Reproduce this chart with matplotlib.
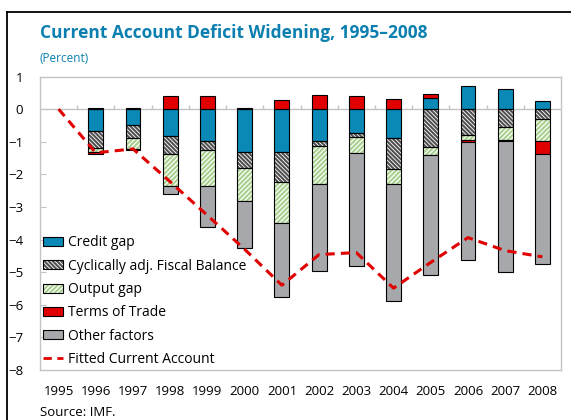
import numpy as np
import matplotlib.pyplot as plt
from matplotlib.patches import Patch
from matplotlib.lines import Line2D
from matplotlib.legend_handler import HandlerTuple

plt.rcParams['font.family'] = ['Open Sans', 'DejaVu Sans']
plt.rcParams['hatch.linewidth'] = 1.5

# Contributions to the current account change, percent
years = [str(y) for y in range(1995, 2009)]
credit_gap = [0, -0.68, -0.48, -0.82, -0.99, -1.31, -1.33, -0.98, -0.72, -0.88, 0.33, 0.70, 0.62, 0.24]
fiscal_balance = [0, -0.52, -0.40, -0.56, -0.25, -0.49, -0.91, -0.14, -0.15, -0.96, -1.16, -0.80, -0.56, -0.31]
output_gap = [0, -0.10, -0.34, -0.98, -1.12, -1.02, -1.26, -1.17, -0.47, -0.46, -0.26, -0.14, -0.39, -0.67]
terms_of_trade = [0, -0.08, -0.03, 0.41, 0.39, 0.03, 0.29, 0.44, 0.40, 0.32, 0.12, -0.07, -0.04, -0.41]
other_factors = [0, 0.03, 0.03, -0.25, -1.24, -1.45, -2.25, -2.66, -3.47, -3.57, -3.67, -3.62, -4.00, -3.36]
fitted_ca = [0, -1.34, -1.22, -2.23, -3.26, -4.30, -5.40, -4.46, -4.40, -5.49, -4.70, -3.94, -4.34, -4.53]

blue = '#0a88b6'
red = '#e00000'
gray = '#a6a8ab'
green_hatch = '#a8d08d'
dark_hatch = '#505050'
axis_gray = '#c4c4c4'

# (values, label, facecolor, hatch, hatch colour)
components = [
    (credit_gap, 'Credit gap', blue, None, None),
    (fiscal_balance, 'Cyclically adj. Fiscal Balance', 'white', '\\' * 8, dark_hatch),
    (output_gap, 'Output gap', 'white', '/' * 7, green_hatch),
    (terms_of_trade, 'Terms of Trade', red, None, None),
    (other_factors, 'Other factors', gray, None, None),
]

fig = plt.figure(figsize=(5.71, 4.20), dpi=100)
ax = fig.add_axes([40 / 571, 1 - 370 / 420, 521 / 571, 293.5 / 420])

x = np.arange(len(years))
width = 0.4
pos_base = np.zeros(len(x))
neg_base = np.zeros(len(x))
handles = []
for vals, label, fc, hatch, hc in components:
    v = np.array(vals, dtype=float)
    base = np.where(v >= 0, pos_base, neg_base)
    keep = v != 0
    if hatch:
        ax.bar(x[keep], v[keep], bottom=base[keep], width=width, color=fc,
               edgecolor=hc, hatch=hatch, linewidth=0, zorder=2)
        ax.bar(x[keep], v[keep], bottom=base[keep], width=width, color='none',
               edgecolor='black', linewidth=0.8, zorder=3)
        handles.append((Patch(facecolor=fc, edgecolor=hc, hatch=hatch, linewidth=0),
                        Patch(facecolor='none', edgecolor='black', linewidth=0.8)))
    else:
        ax.bar(x[keep], v[keep], bottom=base[keep], width=width, color=fc,
               edgecolor='black', linewidth=0.8, zorder=3)
        handles.append(Patch(facecolor=fc, edgecolor='black', linewidth=0.8))
    pos_base += np.clip(v, 0, None)
    neg_base += np.clip(v, None, 0)

ax.plot(x, fitted_ca, color=red, linestyle=(0, (3, 2)), linewidth=2.2, zorder=4)
handles.append(Line2D([], [], color=red, linestyle=(0, (3, 2)), linewidth=2.0))
labels = [c[1] for c in components] + ['Fitted Current Account']

# zero line with category separators
ax.axhline(0, color=axis_gray, linewidth=1.0, zorder=1)
ax.vlines(np.arange(0.5, len(x) - 1), 0, 0.13, color=axis_gray, linewidth=1.0, zorder=1)

ax.set_xlim(-0.5, len(x) - 0.5)
ax.set_ylim(-8, 1)
ax.set_yticks(range(-8, 2))
ax.set_xticks(x)
ax.set_xticklabels(years)
ax.tick_params(axis='y', direction='in', length=4, color=axis_gray, pad=12, labelsize=9.5)
ax.tick_params(axis='x', length=0, pad=11, labelsize=9.5)
for s in ax.spines.values():
    s.set_color(axis_gray)
    s.set_linewidth(1.0)

ax.legend(handles, labels, loc='lower left', bbox_to_anchor=(0.005, 0.01),
          frameon=False, fontsize=10, borderpad=0, borderaxespad=0,
          handlelength=1.5, handleheight=0.6, handletextpad=0.3, labelspacing=0.6,
          handler_map={tuple: HandlerTuple(ndivide=1)})

fig.text(40 / 571, 1 - 38.5 / 420, 'Current Account Deficit Widening, 1995\u20132008',
         color='#0b80b0', fontsize=12.5, fontweight='bold', va='baseline')
fig.text(40 / 571, 1 - 62 / 420, '(Percent)', color='#0b80b0', fontsize=8.5, va='baseline')
fig.text(40 / 571, 1 / 420, 'Source: IMF.', fontsize=9.5, va='bottom')

# outer frame on the left and top
fig.add_artist(Line2D([7 / 571, 7 / 571], [0, 1 - 12 / 420], color='black', linewidth=1.3))
fig.add_artist(Line2D([7 / 571, 1], [1 - 12 / 420, 1 - 12 / 420], color='black', linewidth=1.3))

fig.savefig('out.png', dpi=100)
